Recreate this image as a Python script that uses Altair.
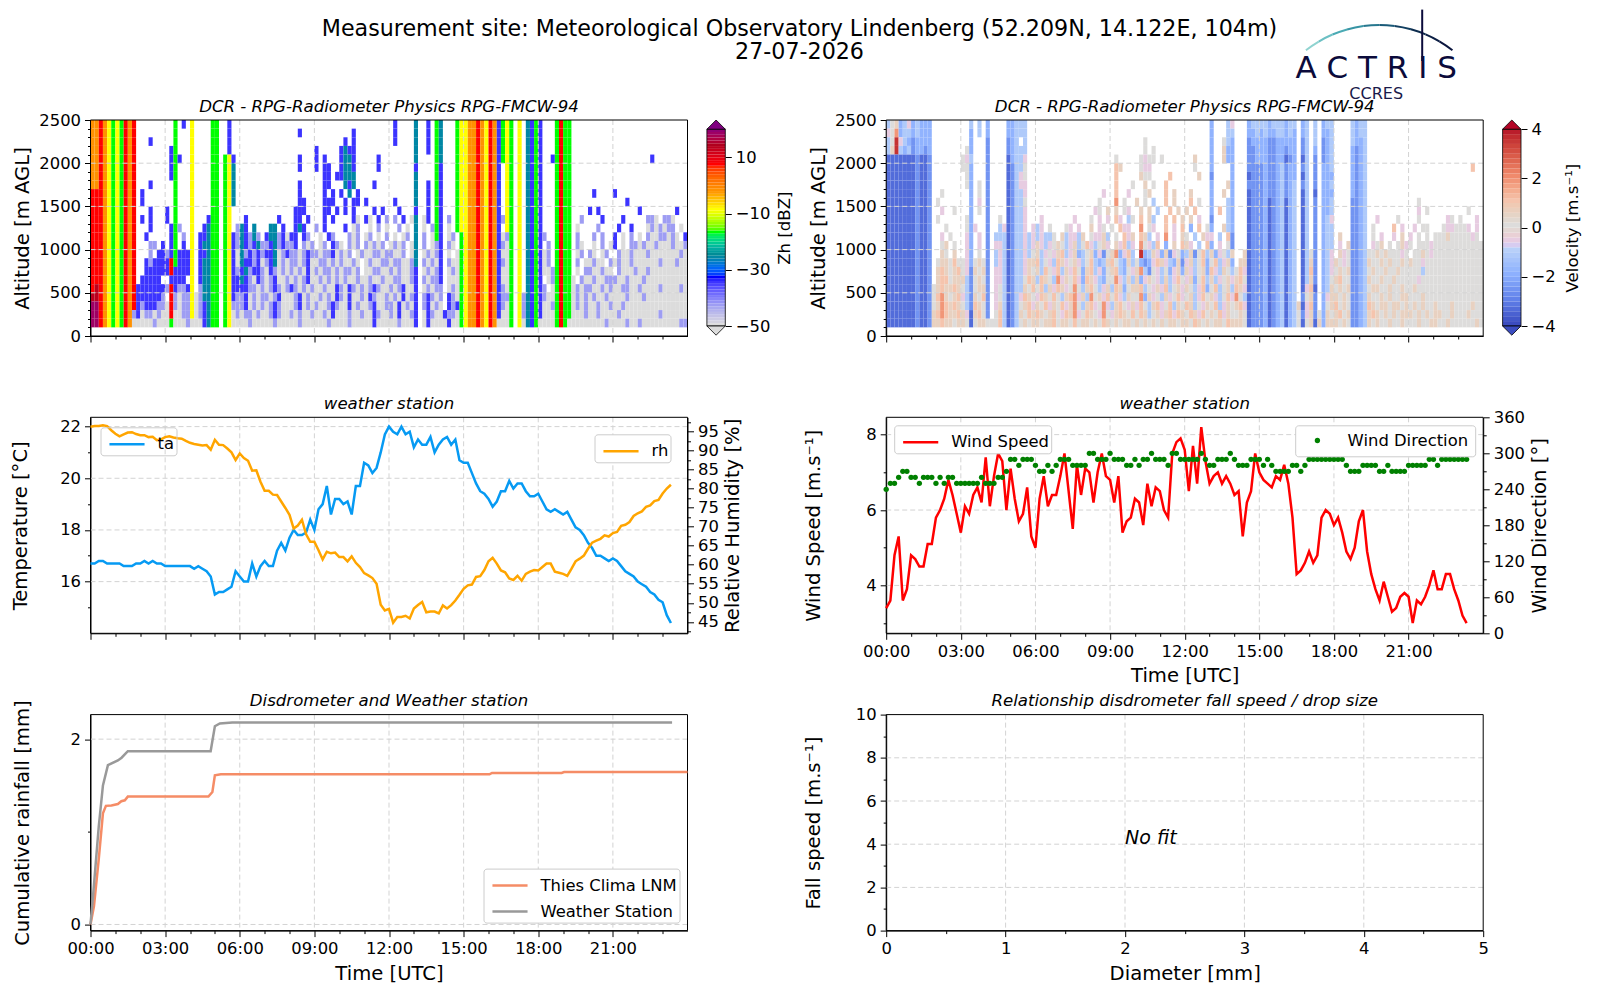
import altair as alt
import pandas as pd

FONT = "DejaVu Sans"
W, H = 597, 216
hours = list(range(24))
grid_hours = [3, 6, 9, 12, 15, 18, 21]

sup1 = "Measurement site: Meteorological Observatory Lindenberg (52.209N, 14.122E, 104m)"
sup2 = "27-07-2026"

ta = [16.7,16.7,16.8,16.8,16.7,16.7, 16.7,16.7,16.6,16.6,16.6,16.7, 16.7,16.8,16.7,16.8,16.7,16.7,
      16.6,16.6,16.6,16.6,16.6,16.6, 16.6,16.5,16.6,16.5,16.4,16.2, 15.5,15.6,15.6,15.7,15.8,16.4,
      16.2,16.0,16.0,16.7,16.2,16.6, 16.8,16.6,16.6,17.2,17.5,17.2, 17.7,18.0,17.8,17.8,17.9,18.4,
      18.0,18.8,19.0,19.7,18.6,19.2, 19.2,19.0,19.1,18.6,19.7,19.7, 20.6,20.5,20.2,20.4,21.0,21.7,
      22.0,21.8,21.7,22.0,21.7,21.8, 21.2,21.5,21.3,21.3,21.6,21.0, 21.3,21.5,21.6,21.3,21.5,20.7,
      20.6,20.6,20.2,19.8,19.5,19.4, 19.2,18.9,19.1,19.5,19.5,19.9, 19.6,19.8,19.8,19.5,19.3,19.3,
      19.4,19.1,18.8,18.7,18.8,18.7, 18.6,18.7,18.4,18.1,18.0,17.8, 17.5,17.3,17.0,17.0,16.9,16.8,
      16.9,16.8,16.6,16.4,16.3,16.2, 16.0,15.9,15.8,15.6,15.5,15.3, 15.2,14.7,14.4]
rh = [96.2,96.4,96.4,96.6,96.4,95.3, 94.4,93.7,94.2,94.7,94.8,94.3, 94.0,94.0,93.5,93.6,92.7,92.9,
      93.5,93.7,93.4,93.2,93.1,92.5, 92.0,91.7,91.5,91.3,91.4,90.2, 92.8,91.5,91.4,90.5,89.5,87.5,
      89.2,88.0,87.3,84.7,84.8,81.8, 79.4,79.4,78.4,78.3,76.6,74.9, 73.1,69.5,70.3,71.8,68.0,66.0,
      66.0,63.8,61.4,63.4,63.0,63.2, 62.0,62.0,60.9,62.2,60.5,59.4, 57.8,57.2,56.5,55.0,49.5,48.0,
      48.4,44.8,46.3,46.3,46.6,45.9, 48.5,49.4,50.2,47.5,47.7,47.7, 47.2,49.3,48.5,49.4,50.6,52.1,
      53.7,54.6,54.8,56.8,57.0,58.6, 60.9,61.8,60.3,58.5,58.0,56.4, 56.0,57.1,55.8,57.6,58.2,58.6,
      58.5,59.4,60.3,60.3,58.2,57.9, 57.6,57.1,58.9,60.9,61.6,62.4, 64.2,65.8,66.3,66.8,67.7,67.4,
      68.3,68.6,70.2,70.5,71.2,72.8, 73.5,74.0,75.2,75.6,76.7,77.0, 78.7,80.0,81.0]
wind_speed = [3.4,3.6,4.8,5.3,3.6,3.9, 4.8,4.7,4.5,4.5,5.1,5.1, 5.8,6.0,6.3,6.8,6.4,5.9,
      5.4,6.1,5.9,6.4,6.6,6.2, 7.4,6.1,6.9,7.5,7.3,6.0, 7.1,6.3,5.7,5.9,6.6,5.3,
      5.0,6.3,6.9,6.1,6.4,6.4, 6.9,7.5,6.5,5.5,7.2,6.4, 7.1,7.0,6.2,7.0,7.5,6.9,
      6.8,6.2,6.9,5.4,5.7,5.8, 6.3,6.2,5.6,6.7,6.1,6.6, 6.5,6.0,5.8,7.5,7.8,7.9,
      7.6,6.5,7.7,6.7,8.2,7.3, 6.7,6.9,7.0,6.7,6.9,6.7, 6.4,6.5,5.3,6.2,6.5,7.5,
      7.0,6.8,6.7,6.6,6.9,6.8, 7.2,6.7,5.8,4.3,4.4,4.6, 4.9,4.6,4.8,5.8,6.0,5.9,
      5.6,5.8,5.4,4.9,4.7,5.0, 5.7,6.0,4.9,4.3,3.9,3.6, 4.1,3.7,3.3,3.4,3.7,3.8,
      3.7,3.0,3.6,3.5,3.7,4.0, 4.4,3.9,3.9,4.3,4.3,3.9, 3.6,3.2,3.0]
wind_dir = [240,250,250,260,270,270, 260,260,250,260,260,260, 250,260,250,260,260,250,
      250,250,250,250,250,260, 250,250,250,260,260,270, 290,290,280,290,290,290,
      280,270,270,280,270,280, 290,290,290,280,280,280, 280,300,300,290,290,290,
      300,290,290,290,280,280, 290,280,290,290,300,290, 290,290,280,300,300,290,
      290,290,290,290,300,290, 280,280,290,290,290,300, 290,280,280,280,290,290,
      290,280,290,280,270,270, 270,270,280,280,270,280, 290,290,290,290,290,290,
      290,290,290,280,270,270, 270,280,280,280,280,270, 270,280,270,270,270,270,
      280,280,280,280,280,290, 290,280,290,290,290,290, 290,290,290]

rain_ws_t = [0,0.1,0.33,0.5,0.7,1.1,1.25,1.5,4.83,5.0,5.2,5.7,23.38]
rain_ws_v = [0,0.3,1.05,1.5,1.72,1.77,1.8,1.87,1.87,2.14,2.17,2.18,2.18]
rain_lnm_t = [0,0.14,0.33,0.5,0.62,0.84,1.1,1.24,1.38,1.5,4.74,4.9,5.0,5.24,16.04,16.14,18.94,19.04,24]
rain_lnm_v = [0,0.2,0.7,1.2,1.28,1.285,1.3,1.33,1.34,1.38,1.38,1.43,1.61,1.62,1.62,1.635,1.635,1.645,1.645]

alt_bands = [2400,2300,2200,2100,2000,1900,1800,1700,1600,1500,1400,1300,1200,1100,1000,900,800,700,600,500,400,300,200,100]

zh_levels = dict(a=-50,b=-43,c=-35,d=-26,e=-17,f=-9,g=-2,h=7,i=13,j=18)
zh_rows = [
"gghgfe fehgh. ...... ..e.c. f....e e..c.. ...... ...... ...... ...... ...... ...... .c.... d..c.e d...ef fgghgf hgcefe .f.dce c...eh ee.... ...... ...... ...... ......",
"gghgfe fehgh. ...... ..e... f....e e..c.. ...... ...... ..c... ...... ...c.. ...... .c.... d..c.e d...ef fgghgf hgcefe .f.dce c...eh ee.... ...... ...... ...... ......",
"gghgfe fehgh. ..c... ..e... f....e e..c.. ...... ...... ...... ...... .c.c.. ...... .c.... d..c.e d...ef fgghgf hgcefe .f.dce c...eh ee.... ...... ...... ...... ......",
"gghgfe fehgh. ...... .ce... f....e e..c.. ...... ...... ...... c..... cdcc.. ...... ...... d..c.e d...ef fgghgf hgcefe .f.dce c...eh ee.... ...... ...... ...... ......",
"gghgfe fehgh. ...... .cec.. f....e e.efc. ...... ...... ..c... c.c... cddc.. ...c.. ...... d....e d...ef fgghgf hgcefe .f.dce c..ceh ee.... ...... ...... ...c.. ......",
"gghgfe fehgh. ...... .ce... f....e e.efd. ...... ...... ..c... c.cc.. cddc.. ...c.. ...... c....e c...ef fgghgf hgc.fe .f.dce c...eh ee.... ...... ...... ...... ......",
"gghgfe fehgh. ...... .ce... f....e e.efd. ...... ...... ...... ..cc.c cddd.. ...... ...... d....e c...ef fgghgf hgc.fe .f.dce c...eh ee.... ...... ...... ...... ......",
"gghgfe fehgh. ..c... ..e... f....e e.efd. ...... ...... ..c... ..cc.. .dcd.. ..c... ...... d..c.e c...ef fgghgf hgc.fe .f.dce c...eh ee.... ...... ...... ...... ......",
"hhhgfe fehgh. c..... ..e... f....e e.efd. ...... ...... ..c... ..c.c. c.d.c. ...... ...... d..c.e c...ef fgghgf hgc.fe .f.dce c...eh ee.... .c.... c..... ...... ......",
"hhhgfe fehgh. c..... ..e... f....e e.efd. ...... ...... ..cc.. ..ccc. .c.cc. c..... .c.... d..c.e c...ef fgghgf hgc.fe .f.dce c...eh ee.... ...... ...c.. ...... ......",
"hhhgfe fehgh. ..c... c.e... f....e e.ef.. ...... ...... .ccc.. ..cc.c .c.c.. ..c.c. ..c... c..c.e c...ef fgghgf hgc.fe .f.dce c...eh ee.... c.c... ...... c..... ...c..",
"hhhgfe fehgh. c.c... c.e... f...ce e.ef.. .c.... ...c.. .cc.c. ..c.c. ...ca. ca.c.b .b.c.a d.ac.e c.b.ef fgghgf hgcbfe .f.dce c...eh ee..b. ...c.. ..c... ..bba. bba...",
"hhhgfe fehgh. ..c... .ceb.. f..cde e.ef.b dc.d.. .dd.c. .cdc.. b.c... .c.ab. .a.b.a ..b.a. d.a.be c.a.ef fgghgf hgc.fe .f.dce c...eh ee.a.. ..b... .c..c. ..abab abb.a.",
"hhhgfe fehgh. .c.... .ce.b. f.ccde e.efcb dcbdb. cddbca cc.cb. .a.cb. ..bab. ab.a.b .a.ab. d.b.ae c.ab.e fgghgf hgcabe .f.dce cb..eh ee.b.. .b.b.. c.a.b. a.baab baba.c",
"hhhgfe fehgh. ..bb.c .ce.c. f.cdde e.efcb dcbcdb bcdbcb bc.bab .ab.cb a.bab. babab. abab.a d.b.ab c.ba.e fgghgf hgcbae .f.dce c.b.eh ee.ba. .a.b.a c.a.bb abaaba aabaab",
"hhhgfe fehgh. ..b.cc bceccc f.ccde e.efca dbcbcb ccdabc bbabcb babbca bab.ab aabbab baab.a d.abab c.a.ae fgghgf hgcaae .f.dce cab.eh ee.ab. ba.ab. .baaba aabaaa aaaaba",
"hhhgfe fehgh. .cbccc checcc f.cdde e.efca dccbca bcdaba bbabca abbaba baaba. abaabb abbaab d.baba c.baae fgghgf hgcbae .f.dce cab.eh ee.b.a abaa.b abaaba aaaaab aaabaa",
"hhhgfe fehgh. .ccccc chcccc f.cdde e.efcb cdbccb acbaba babaca babbab abbab. aabbaa babaab c.abab c.abae fgghgf hgcaae .f.dce caabeh ee.a.b baabaa .baaab aabaaa aaaaaa",
"hhhgfe fehgh. ccccc. .cccc. f.cdde e.efcc dcbacb abcaab ababca ababab abaaba abaaba abbaab c.babb c.aaae fgghgf hgcaae .f.dce c.abeh eea.ba abaabb baabaa abaaaa aaaaaa",
"hihgfe fehghc cccccc bhcbbc f.bdde e.efcc ccbbab abcbab cbabab aabaac bacbab abcbaa babcaa c.abab b.abae fgghgf hgcbae .f.dce cb.aeh eeabab baabab aabbaa baaaab aaaaba",
"iihgfe fehghc cccccb .hbabb fabdde e.efcb bcabab babcaa abcaba ababac bacaab acbaab abacab c.bcba b.cbae fgghgf hgcbbe .fbdce cbaaeh eeabab abaaba aaabaa abaaaa aaaaaa",
"jjhgfe fehghc bcccbb ahbabb fabcde e.efbb bcabab abcbaa abcaba baabcb aacaba abcaab bacaba c.bcab a.cbce fgghgf hgcbae .fbdce caabeh eeabab aabaab aabaaa aaaaaa aaaaaa",
"jjhgfe fehgbc abbaba ahaabb fabcde e.efab abbaba abcbaa babaab aabaca aabaab aacbaa bacaab c.acba acbbae fgghgf hgcaae .fbdce caaaeh eeaaab aabaaa abaaaa aaaaab aaaaaa",
"jjhgfe fehgaa aaabaa aeaaab aaacde e.efaa aabaaa aabaaa aabaaa aaabaa aabaaa aacaaa aabaaa c.acaa aacaae fgghgf hgaaae .fadce aaaaeh eaaaaa aaaaba aaabaa baaaaa aaaabb",
]

vel_levels = dict(A=-3.4,B=-2.6,C=-1.9,D=-1.2,E=-0.6,F=0,G=0.5,H=1,I=1.8,J=3.5)
vel_rows = [
"DFGCDE CDCCC. ...... ..D.D. C....C CDDD.. ...... ...... ...... ...... ...... ...... ...... C...DE ...CDD DDCDDD CDD.CD .D.CDD ....DC DD.... ...... ...... ...... ......",
"EFICDD CDCCC. ...... ..C.D. C....C CDDD.. ...... ...... ...... ...... ...... ...... ...... C...DD ...CCD CDCCDD CDC.CD .D.CCD ....DC DD.... ...... ...... ...... ......",
"DFJEDC BCCCC. ...... ..C... B....B CD.D.. ...... ...... ...... ...... ..F... ...... ...... C..FDC ...BCC CCBBCC CCC.BD .D.BCD ....DC CD.... ...... ...... ...... ......",
"DGJDCD BCCBC. ...... .FC... B....B CDDD.. ...... ...... ...... ...... ..F.F. ...... ...... C..GCC ...BBC CCBBCC BCC.BD .C.BCD ....CB CD.... ...... ...... ...... ......",
"AAAAAA ABAAB. ...... FED... B....A CDDE.. ...... ...... ...... .F.... .FEFF. F..... ..G... C..GCC ...BBC CCBBCC ABC.AD .B.BCD ....CB CD.... ...... ...... ...... ......",
"AAAAAA ABAAB. ...... FFC... B....A BDDF.. ...... ...... ...... .HG... .FEE.. ...... ..F... C....C ...BBB BCBBCD BCC.BD .B.CCD ....CB CD.... ...... ...... ...... ...H..",
"AAAAAA ABAAB. ...... .FC... B....A BDEF.. ...... ...... ...... .H.... .GFF.. ..H... ...G.. B....C ...ABB BCBBCD BCC.AD .B.CCC ....CB CD.... ...... ...... ...... ......",
"AAAAAA ABAAB. ...... .FC.F. B....A BDEE.. ...... ...... ...... .H...F ..G.F. .H.... ...... C...GC ...BBB BCBBCD BCD.BD .B.CCD ....CB CD.... ...... ...... ...... ......",
"AAAAAA ABAAB. .F.... ..C.F. B....A BDDE.. ...... ...... ....E. .H..E. ..FG.. .H.G.. .G.... C..G.C ...ABB BCBBCD BCD.AD .A.CCC ....CB CD.... ...... ...... ...... ......",
"AAAAAA ABAAB. F..... ..C.E. B....A BDDF.. ...... ...... ...F.. .I.F.. G.F.D. .H.G.. .H.F.. C...DC ...ABB BCABCD ACD.AD .B.CCD ....BB CD.... ...... ..F... ...... ......",
"AAAAAA ABAAB. .E..F. ..C.F. B....A BDDE.. ...... ...... ..EF.G .G.FE. .G.G.D ..H.G. G.H... C.H.DC ...ABB BCABCD ACD.AD .B.CCD ....BB CD.... ...... ..E.F. ...... ..F...",
"AAAAAA ABAAB. F..... .FC... B..F.A BDDE.. .E.... ...E.. .F.E.E .HE.DF .H.GD. .H.H.G .G.E.. B...DC ...ABB BCABCD ACD.AD .B.CDE ....BB CD..E. ...F.. ..F... ...EF. F...E.",
"AAAAAA ABAAB. ..F... .FCE.. B..DEA BDDE.E DE.F.. .FE.E. .G.EF. F.HEE. .I.FE. .H.E.H .C.H.F C..GDC ...ABB BCABCD ACD.AD .B.CDD ....BB CD.F.. ..H.E. .E.FF. ..FEEF FFE.E.",
"AAAAAA ABAAB. .E.F.. .EC.E. B.DDDA BDDEDE DEDDF. GDEEDG .FEEGD .F.HEG .HGD.E .I.E.G F.D.GE E.D.HB ...ABB BCABCD ACD.AD .B.CDD .G..BB CD.F.E ..E.G. E.F.F. FFFGFF FFFEF.",
"AAAAAA ABAAB. .FG.F. .EC.E. B.EEDA BDDEDE GEDEFG FDEGDF HEDFGE .GEHDE .IFEDH .C.G.H GE.D.H C.E.FB ...ABB BCABCD ACD.AD .B.CDD .E.GBB CD.EFG .F.FGE F.FFFE FFFFFF FFFFFF",
"AAAAAA ABAAB. .GF.G. .EC.F. B.DEDA BDDEDF GDEFEG HDEGCD FGCEBF GICEHD .JCDGE CGBEFC DGBFHD GCEFDG ..GABB BCABCD ACD.AD FB.CDE .GEFBB CDFFGF GFFFEF .FFGFE FFFFFF FFFFFF",
"AAAAAA ABAAB. FGGFHF FECFGF B.DEDA BDDEGG HDFEDH GEFGED FHDCDG HFDCGD FCBCEH GEDCGB EGDFHC FHDEGC .GGABB BCABCD ACD.AD GB.CDE GFEFBB CDGFFG FGFFGF GFFEFF FFFFFF FFFFFF",
"AAAAAA ABAAB. GHGFGH FEBGFG B.EEDA BDDEGF GDHFEH DGEHFC GHDECF GHDCFE GIDBFE DFCEGC GEDFGC HEDGFD FHEABB BCABCD ACD.AD HB.CDE FGFGBB CDFGFF GFFGFF FFFDFF FFFFFF FFFFFF",
"AAAAAA ABAAB. GHHFGG GDBFGF B.EEDA BDDFHG DHGFDI EGFHEC HGEDCF FIEDGD GCEGFE DGDEHF EGCFHD GDEFGE GHFABB BCABCD ACD.AD GB.CDF GHFFBB CDGFFG FFGFFF FFEFFF FFFFFF FFFFFF",
"AAAAAA ABAABF GHGGHG FDBFGG B.EFDA BDDGFH FHDGEH GEFIFD GHFDEG DHGCFG GHDFEG EHDFGE GFDEHC FHDFGD HGEABB BCABCD ACD.AE HA.CDG FGFGBB CDFGGF FGFFGF FGFFFF FFFFFF FFFFFF",
"AAAAAA ABAABF HIGFGH EDBGFH B.EFDA BDEHGF EHGFHF DGHIEG DIFGEH FHEDGF FICGEF DGEFHE FGDEHF GEDFHE IFDABB BCABCD ACD.BF GB.CEG GFGFBB CDGFFG FGFFGG FFFGFF FFFFFF FFFFFF",
"AAAAAA ABAABF GIHGHG FDBHGF B.EGDA BDFGHE GFHEGF HEGIFD GHEFIE DGHFEG EHFDGH EFHDGF HGDFEG FHDEGF GHEABB BCABCD ACDGAE HB.CFG HFGFBB CDHGFG GFGGFG FGFGFF GFFFGF FFFGFF",
"AAAAAA ABAABG HIHGGH GEAGHF B.FHDA BDGFHG HGFGHF EHGIEF HGFEIF EGHGFH FHGDFG EGHEHG FHGEHF GFHEGF FGFABB BCABCD ACDFBE GBFCGF GHFGBB CDGHGF GFGFGG GFGFGF GGFFGF FFGFFF",
"AAAAAA ABAABG GHGGFG GFAFGG FFFHDA BDFGFG GFGGHF GGFHFG GFGFHG FGFGGF GFGFGF GFGGFG GFHGFG FGGFHG GGFABB BCABCD ACDFAF GAGCGG GFGFBB CDGFGF FGFFGF FFGFFG GFFGFF FFFFGF",
]

zh_dom = [-50,-44,-33,-25,-17,-9,-3,7,14,20]
zh_rng = ["#dcdcdc","#a9a9f0","#0000ff","#008c96","#00ff00","#ffff00","#ff9a00","#ff0000","#b0001e","#800080"]
vel_dom = [-4,-3,-2,-1,0,1,2,3,4]
vel_rng = ["#3b4cc0","#6282ea","#8db0fe","#b8d0f9","#dddcdb","#f5c4ad","#f08a6c","#d44e41","#b40426"]

def cells(rows, levels):
    out = []
    for band, r in zip(alt_bands, rows):
        s = r.replace(" ", "")[:144]
        for i, ch in enumerate(s):
            if ch != ".":
                out.append(dict(t0=i/6, t1=(i+1)/6, a0=band, a1=band+100, v=levels[ch]))
    return pd.DataFrame(out)

HOUR_EXPR = "datum.value % 3 == 0 ? ((datum.value < 10 ? '0' : '') + datum.value + ':00') : ''"

def x_time(field="x", labels=False, title=None):
    return alt.X(f"{field}:Q", scale=alt.Scale(domain=[0,24], nice=False, zero=False),
                 axis=alt.Axis(values=hours, labels=labels, labelExpr=HOUR_EXPR, title=title, grid=False,
                               tickSize={"expr": "datum.value % 3 == 0 ? 6 : 3"}, titlePadding=7))

def y_axis(values, major, label, title, title_x=None, orient="left", padding=8):
    kw = dict(values=values, grid=False, orient=orient, title=title, labelExpr=label,
              tickSize={"expr": f"{major} ? 6 : 3"}, titlePadding=padding)
    if title_x is not None:
        kw["titleX"] = title_x
    if orient == "right":
        kw["titleAngle"] = 270
        kw["titleBaseline"] = "bottom"
    return alt.Axis(**kw)

def y_q(field, domain, axis):
    return alt.Y(f"{field}:Q", scale=alt.Scale(domain=domain, nice=False, zero=False), axis=axis)

def xrules(x_enc, vals=grid_hours):
    return alt.Chart(pd.DataFrame({"x": vals})).mark_rule(color="#d3d3d3", strokeDash=[5,3], strokeWidth=1).encode(x=x_enc)

def yrules(y_enc, vals):
    return alt.Chart(pd.DataFrame({"y": vals})).mark_rule(color="#d3d3d3", strokeDash=[5,3], strokeWidth=1).encode(y=y_enc)

def label_text(s, x, y, size, **kw):
    return alt.Chart(pd.DataFrame({"t": [s]})).mark_text(font=FONT, fontSize=size, **kw).encode(
        text="t:N", x=alt.value(x), y=alt.value(y))

def ptitle(s):
    return label_text(s, W/2, -13.3, 16.6, fontStyle="italic", align="center", color="black")

def box():
    return alt.Chart(pd.DataFrame({"n": [0]})).mark_rect(fill=None, stroke="black", strokeWidth=1).encode(
        x=alt.value(0), x2=alt.value(W), y=alt.value(0), y2=alt.value(H))

CB_RANGE = [206, 9.2]

def colorbar(domain, rng, steps, step, ticks, title, title_x):
    dfc = pd.DataFrame({"v0": steps, "v1": [s + step for s in steps]})
    scale_y = alt.Scale(domain=[domain[0], domain[-1]], range=CB_RANGE, nice=False, zero=False)
    cscale = alt.Scale(domain=domain, range=rng)
    ax = alt.Axis(values=ticks, orient="right", offset=37.8, grid=False, title=title, tickSize=6,
                  titleFontSize=16.6, titleX=title_x, titleAngle=270, titleBaseline="bottom", domain=False)
    bar = alt.Chart(dfc).mark_rect().encode(
        x=alt.value(W+19.4), x2=alt.value(W+37.8),
        y=alt.Y("v0:Q", scale=scale_y, axis=ax), y2="v1:Q",
        color=alt.Color("v0:Q", scale=cscale, legend=None))
    frame = alt.Chart(pd.DataFrame({"a": [domain[0]], "b": [domain[-1]]})).mark_rect(fill=None, stroke="black", strokeWidth=0.8).encode(
        x=alt.value(W+19.4), x2=alt.value(W+37.8),
        y=alt.Y("a:Q", scale=scale_y, axis=None), y2="b:Q")
    up = alt.Chart(pd.DataFrame({"v": [domain[-1]]})).mark_point(
        filled=True, shape="M-1,0L1,0L0,-1Z", size=338, fill=rng[-1], color=rng[-1], stroke="black", strokeWidth=0.8, opacity=1).encode(
        x=alt.value(W+28.6), y=alt.Y("v:Q", scale=scale_y, axis=None))
    down = alt.Chart(pd.DataFrame({"v": [domain[0]]})).mark_point(
        filled=True, shape="M-1,0L1,0L0,1Z", size=338, fill=rng[0], color=rng[0], stroke="black", strokeWidth=0.8, opacity=1).encode(
        x=alt.value(W+28.6), y=alt.Y("v:Q", scale=scale_y, axis=None))
    return [bar, frame, up, down]

def heat_panel(df, domain, rng, extra, left_x):
    cs = alt.Scale(domain=domain, range=rng)
    ya = y_axis(list(range(0,2600,100)), "datum.value % 500 == 0", "datum.value % 500 == 0 ? datum.value : ''",
                "Altitude [m AGL]", left_x)
    heat = alt.Chart(df).mark_rect().encode(
        x=x_time("t0"), x2="t1:Q",
        y=y_q("a0", [0,2500], ya), y2="a1:Q",
        color=alt.Color("v:Q", scale=cs, legend=None))
    gx = xrules(x_time("x"))
    gy = yrules(y_q("y", [0,2500], None), [500,1000,1500,2000])
    return [heat, gx, gy, box()] + extra

DCR = "DCR - RPG-Radiometer Physics RPG-FMCW-94"

# ---- top row
cb1 = colorbar(zh_dom, zh_rng, list(range(-50,20)), 1, [-50,-30,-10,10], "Zh [dBZ]", 67.5)
sup_a = label_text(sup1, 709, -91, 22.2, align="center", color="black")
sup_b = label_text(sup2, 709, -68, 22.2, align="center", color="black")
p1 = alt.layer(*heat_panel(cells(zh_rows, zh_levels), zh_dom, zh_rng, cb1 + [sup_a, sup_b, ptitle(DCR)], -58)
     ).resolve_scale(y="independent", color="independent").properties(width=W, height=H)

logo_t0 = [5.62,5.75,5.88,6.01,6.15,0.001,0.13,0.27,0.40,0.53]
logo_t1 = [5.75,5.88,6.01,6.15,6.283,0.13,0.27,0.40,0.53,0.663]
logo_col = ["#8fd3d0","#6cc0c4","#4aaab4","#3794a4","#27788f","#1a5a78","#123f60","#0d2c4e","#0b1e44","#0b153e"]
logo_arcs = [alt.Chart(pd.DataFrame({"n": [i]})).mark_arc(radius=120, radius2=118, theta=a, theta2=b, color=c).encode(
    x=alt.value(493), y=alt.value(24)) for i, (a, b, c) in enumerate(zip(logo_t0, logo_t1, logo_col))]
logo_bar = alt.Chart(pd.DataFrame({"n": ["mast"]})).mark_rule(color="#0b0b3b", strokeWidth=2).encode(
    x=alt.value(536), y=alt.value(-110.4), y2=alt.value(-59))
logo_a = label_text("A C T R I S", 490, -51, 31, align="center", color="#0b0b3b")
logo_c = label_text("CCRES", 490, -26.5, 16, align="center", color="#1a1a4a")
cb2 = colorbar(vel_dom, vel_rng, [x/10 for x in range(-40,40,2)], 0.2, [-4,-2,0,2,4], "Velocity [m.s⁻¹]", 59.5)
p2 = alt.layer(*heat_panel(cells(vel_rows, vel_levels), vel_dom, vel_rng, cb2 + logo_arcs + [logo_bar, ptitle(DCR), logo_a, logo_c], -58)
     ).resolve_scale(y="independent", color="independent").properties(width=W, height=H)

# ---- weather
LONG_LINE = "M-1.3,0L1.3,0"
def legend(orient, symbol=LONG_LINE, size=729, fill="white", padding=2, sym_off=9.5, lab_off=15.5, **kw):
    return alt.Legend(title=None, orient=orient, labelFont=FONT, labelFontSize=16.4, labelColor="black",
                      symbolType=symbol, symbolSize=size, symbolStrokeWidth=2.5, strokeColor="#cccccc",
                      fillColor=fill, cornerRadius=3, padding=padding, labelOffset=lab_off, symbolOffset=sym_off, labelLimit=300, **kw)

tdf = pd.DataFrame({"t": [i/6 for i in range(len(ta))], "ta": ta, "rh": rh, "ws": wind_speed, "wd": wind_dir})

temp_ax = y_axis(list(range(15,23)), "datum.value % 2 == 0", "datum.value % 2 == 0 ? datum.value : ''", "Temperature [°C]", -60)
rh_ax = y_axis([x/2 for x in range(85,197,5)], "datum.value % 5 == 0", "datum.value % 5 == 0 ? datum.value : ''",
               "Relative Humidity [%]", 55, orient="right", padding=5)
temp_dom, rh_dom = [14.0,22.36], [42.0,98.7]
line_ta = alt.Chart(tdf).transform_calculate(s="'ta'").mark_line(strokeWidth=2.5).encode(
    x=x_time("t"), y=y_q("ta", temp_dom, temp_ax),
    color=alt.Color("s:N", scale=alt.Scale(domain=["ta"], range=["#069af3"]),
                    legend=legend("top-left", fill="rgba(255,255,255,0)", offset=10)))
line_rh = alt.Chart(tdf).transform_calculate(s="'rh'").mark_line(strokeWidth=2.5).encode(
    x=x_time("t"), y=y_q("rh", rh_dom, rh_ax),
    color=alt.Color("s:N", scale=alt.Scale(domain=["rh"], range=["orange"]), legend=legend("top-right", offset=17)))
p3 = alt.layer(
    xrules(x_time("x")), yrules(y_q("y", temp_dom, None), [16,18,20,22]), box(), line_ta, line_rh, ptitle("weather station")
).resolve_scale(y="independent", color="independent").properties(width=W, height=H)

ws_ax = y_axis(list(range(3,9)), "datum.value % 2 == 0", "datum.value % 2 == 0 ? datum.value : ''", "Wind Speed [m.s⁻¹]", -63)
wd_ax = y_axis(list(range(0,361,30)), "datum.value % 60 == 0", "datum.value % 60 == 0 ? datum.value : ''",
               "Wind Direction [°]", 66, orient="right", padding=5)
ws_dom, wd_dom = [2.73,8.46], [0,360]
line_ws = alt.Chart(tdf).transform_calculate(s="'Wind Speed'").mark_line(strokeWidth=2.5).encode(
    x=x_time("t", True, "Time [UTC]"), y=y_q("ws", ws_dom, ws_ax),
    color=alt.Color("s:N", scale=alt.Scale(domain=["Wind Speed"], range=["red"]), legend=legend("top-left", offset=8)))
pts_wd = alt.Chart(tdf).transform_calculate(s="'Wind Direction'").mark_point(filled=True, size=28, opacity=1).encode(
    x=x_time("t", True, "Time [UTC]"), y=y_q("wd", wd_dom, wd_ax),
    color=alt.Color("s:N", scale=alt.Scale(domain=["Wind Direction"], range=["green"]),
                    legend=legend("top-right", symbol="circle", size=28, padding=7, sym_off=7, lab_off=22, offset=8)))
p4 = alt.layer(
    xrules(x_time("x", True, "Time [UTC]")), yrules(y_q("y", ws_dom, None), [4,6,8]), box(), line_ws, pts_wd, ptitle("weather station")
).resolve_scale(y="independent", color="independent").properties(width=W, height=H)

# ---- rain
rain = pd.concat([
    pd.DataFrame({"t": rain_lnm_t, "v": rain_lnm_v, "s": "Thies Clima LNM"}),
    pd.DataFrame({"t": rain_ws_t, "v": rain_ws_v, "s": "Weather Station"}),
])
rain_dom = [-0.066,2.265]
rain_ax = y_axis([0,1,2], "datum.value % 2 == 0", "datum.value % 2 == 0 ? datum.value : ''", "Cumulative rainfall [mm]", -58)
line_rain = alt.Chart(rain).mark_line(strokeWidth=2.5).encode(
    x=x_time("t", True, "Time [UTC]"), y=y_q("v", rain_dom, rain_ax),
    color=alt.Color("s:N", scale=alt.Scale(domain=["Thies Clima LNM","Weather Station"], range=["#f58c66","#999999"]),
                    legend=legend("bottom-right", offset=8)))
p5 = alt.layer(
    xrules(x_time("x", True, "Time [UTC]")), yrules(y_q("y", rain_dom, rain_ax), [0,2]), box(), line_rain, ptitle("Disdrometer and Weather station")
).resolve_scale(color="independent").resolve_legend(color="independent").properties(width=W, height=H)

# ---- fall speed
fx_ax = alt.Axis(values=[x/2 for x in range(0,11)], grid=False, title="Diameter [mm]", labelExpr="datum.value % 1 == 0 ? datum.value : ''",
                 tickSize={"expr": "datum.value % 1 == 0 ? 6 : 3"}, titlePadding=7)
fy_ax = y_axis(list(range(0,11)), "datum.value % 2 == 0", "datum.value % 2 == 0 ? datum.value : ''", "Fall speed [m.s⁻¹]", -63)
fx = alt.X("x:Q", scale=alt.Scale(domain=[0,5], nice=False, zero=False), axis=fx_ax)
fy = y_q("y", [0,10], fy_ax)
nofit = alt.Chart(pd.DataFrame({"x": [2], "y": [4], "t": ["No fit"]})).mark_text(
    font=FONT, fontSize=19, fontStyle="italic", align="left", baseline="alphabetic", color="black").encode(x=fx, y=fy, text="t:N")
p6 = alt.layer(
    xrules(fx, [1,2,3,4]), yrules(fy, [2,4,6,8]), box(), nofit, ptitle("Relationship disdrometer fall speed / drop size")
).properties(width=W, height=H)

chart = alt.concat(p1, p2, p3, p4, p5, p6, columns=2, spacing={"row": 81.3, "column": 198.7}
).properties(bounds="flush", padding={"left": 1.5, "top": 0, "right": 0, "bottom": 0}, background="white"
).configure_view(stroke=None
).configure_axis(labelFont=FONT, titleFont=FONT, labelFontSize=16.4, titleFontSize=19.6, titleFontWeight="normal",
                 labelColor="black", titleColor="black", tickColor="black", domainColor="black", labelPadding=4,
                 labelOverlap=False, labelFlush=False)

chart.save("out.html", embed_options={"renderer": "svg", "actions": False})
